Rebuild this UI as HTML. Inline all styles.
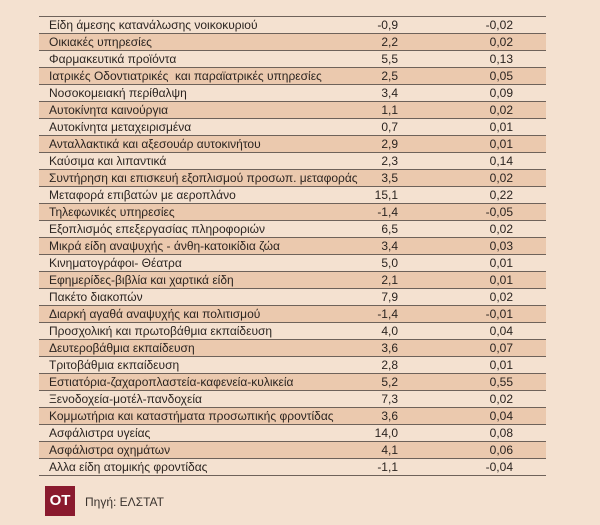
<!DOCTYPE html>
<html><head><meta charset="utf-8"><style>
body{margin:0;width:600px;height:525px;background:#f4e1d0;font-family:"Liberation Sans","DejaVu Sans",sans-serif;color:#2b2420;position:relative;overflow:hidden}
table{position:absolute;left:39px;top:16px;width:507px;border-collapse:collapse;font-size:12px;table-layout:fixed;white-space:nowrap}
td{height:16.6px;padding:0;border-bottom:1px solid #6e625a;line-height:16px;overflow:visible;box-sizing:border-box}
tr:first-child td{border-top:1px solid #6e625a}
tr:nth-child(even) td{background:#ebc9ae}
td.n{padding-left:10px;width:299px}
td.a{text-align:right;width:60px}
td.b{text-align:right;width:148px;padding-right:33px}
.logo{position:absolute;left:45px;top:486px;width:30px;height:30px;background:#8a1a2e;color:#fff;font-weight:bold;font-size:15px;text-align:center;line-height:30px}
.src{position:absolute;left:85px;top:495px;font-size:12px;color:#3a332e}
</style></head><body>
<table>
<colgroup><col style="width:299px"><col style="width:60px"><col style="width:148px"></colgroup>
<tr><td class="n">Είδη άμεσης κατανάλωσης νοικοκυριού</td><td class="a">-0,9</td><td class="b">-0,02</td></tr>
<tr><td class="n">Οικιακές υπηρεσίες</td><td class="a">2,2</td><td class="b">0,02</td></tr>
<tr><td class="n">Φαρμακευτικά προϊόντα</td><td class="a">5,5</td><td class="b">0,13</td></tr>
<tr><td class="n">Ιατρικές Οδοντιατρικές &nbsp;και παραϊατρικές υπηρεσίες</td><td class="a">2,5</td><td class="b">0,05</td></tr>
<tr><td class="n">Νοσοκομειακή περίθαλψη</td><td class="a">3,4</td><td class="b">0,09</td></tr>
<tr><td class="n">Αυτοκίνητα καινούργια</td><td class="a">1,1</td><td class="b">0,02</td></tr>
<tr><td class="n">Αυτοκίνητα μεταχειρισμένα</td><td class="a">0,7</td><td class="b">0,01</td></tr>
<tr><td class="n">Ανταλλακτικά και αξεσουάρ αυτοκινήτου</td><td class="a">2,9</td><td class="b">0,01</td></tr>
<tr><td class="n">Καύσιμα και λιπαντικά</td><td class="a">2,3</td><td class="b">0,14</td></tr>
<tr><td class="n">Συντήρηση και επισκευή εξοπλισμού προσωπ. μεταφοράς</td><td class="a">3,5</td><td class="b">0,02</td></tr>
<tr><td class="n">Μεταφορά επιβατών με αεροπλάνο</td><td class="a">15,1</td><td class="b">0,22</td></tr>
<tr><td class="n">Τηλεφωνικές υπηρεσίες</td><td class="a">-1,4</td><td class="b">-0,05</td></tr>
<tr><td class="n">Εξοπλισμός επεξεργασίας πληροφοριών</td><td class="a">6,5</td><td class="b">0,02</td></tr>
<tr><td class="n">Μικρά είδη αναψυχής - άνθη-κατοικίδια ζώα</td><td class="a">3,4</td><td class="b">0,03</td></tr>
<tr><td class="n">Κινηματογράφοι- Θέατρα</td><td class="a">5,0</td><td class="b">0,01</td></tr>
<tr><td class="n">Εφημερίδες-βιβλία και χαρτικά είδη</td><td class="a">2,1</td><td class="b">0,01</td></tr>
<tr><td class="n">Πακέτο διακοπών</td><td class="a">7,9</td><td class="b">0,02</td></tr>
<tr><td class="n">Διαρκή αγαθά αναψυχής και πολιτισμού</td><td class="a">-1,4</td><td class="b">-0,01</td></tr>
<tr><td class="n">Προσχολική και πρωτοβάθμια εκπαίδευση</td><td class="a">4,0</td><td class="b">0,04</td></tr>
<tr><td class="n">Δευτεροβάθμια εκπαίδευση</td><td class="a">3,6</td><td class="b">0,07</td></tr>
<tr><td class="n">Τριτοβάθμια εκπαίδευση</td><td class="a">2,8</td><td class="b">0,01</td></tr>
<tr><td class="n">Εστιατόρια-ζαχαροπλαστεία-καφενεία-κυλικεία</td><td class="a">5,2</td><td class="b">0,55</td></tr>
<tr><td class="n">Ξενοδοχεία-μοτέλ-πανδοχεία</td><td class="a">7,3</td><td class="b">0,02</td></tr>
<tr><td class="n">Κομμωτήρια και καταστήματα προσωπικής φροντίδας</td><td class="a">3,6</td><td class="b">0,04</td></tr>
<tr><td class="n">Ασφάλιστρα υγείας</td><td class="a">14,0</td><td class="b">0,08</td></tr>
<tr><td class="n">Ασφάλιστρα οχημάτων</td><td class="a">4,1</td><td class="b">0,06</td></tr>
<tr><td class="n">Αλλα είδη ατομικής φροντίδας</td><td class="a">-1,1</td><td class="b">-0,04</td></tr>
</table>
<div class="logo">OT</div>
<div class="src">Πηγή: ΕΛΣΤΑΤ</div>
</body></html>
